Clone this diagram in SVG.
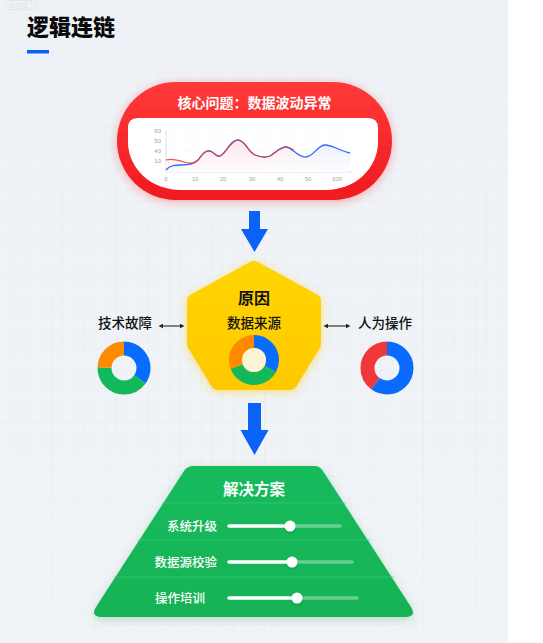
<svg xmlns="http://www.w3.org/2000/svg" width="543" height="643" viewBox="0 0 543 643">
<defs>
<style>
.cn{font-family:"Noto Sans CJK SC","Noto Sans",sans-serif}
.lbl{font-family:"Noto Sans CJK SC",sans-serif;font-size:13.5px;font-weight:500;fill:#111}
.row{font-family:"Noto Sans CJK SC",sans-serif;font-size:12.5px;font-weight:500;fill:#fff}
.ax{font-family:"Liberation Sans",Arial,sans-serif;font-size:6px;fill:#a0a4ab}
.track{stroke:#fff;stroke-opacity:0.35;stroke-width:3.5;stroke-linecap:round}
.act{stroke:#fff;stroke-width:3.5;stroke-linecap:round}
.knob{fill:#fff}
.dbl{stroke:#222;stroke-width:1.1;fill:none}
.arrow{fill:#0A63F5}
.div{stroke:#3fd07f;stroke-opacity:0.55;stroke-width:1}
</style>
<pattern id="grid" width="10.6" height="10.6" patternUnits="userSpaceOnUse">
<path d="M10.6 0V10.6H0" fill="none" stroke="#e3e8ee" stroke-width="0.7"/>
</pattern>
<linearGradient id="bg" x1="0" y1="0" x2="0" y2="1">
<stop offset="0" stop-color="#eef2f6"/>
<stop offset="1" stop-color="#f1f4f7"/>
</linearGradient>
<linearGradient id="redg" x1="0" y1="0" x2="0" y2="1">
<stop offset="0" stop-color="#ff3a3a"/>
<stop offset="1" stop-color="#f01a1f"/>
</linearGradient>
<linearGradient id="yelg" x1="0" y1="0" x2="0" y2="1">
<stop offset="0" stop-color="#ffd600"/>
<stop offset="1" stop-color="#ffc800"/>
</linearGradient>
<linearGradient id="greg" x1="0" y1="0" x2="0" y2="1">
<stop offset="0" stop-color="#16bb5c"/>
<stop offset="1" stop-color="#12b356"/>
</linearGradient>
<linearGradient id="areag" x1="0" y1="0" x2="1" y2="0">
<stop offset="0" stop-color="#ffd9dc" stop-opacity="0.8"/>
<stop offset="0.55" stop-color="#f7dce6" stop-opacity="0.6"/>
<stop offset="1" stop-color="#dfe9ff" stop-opacity="0.7"/>
</linearGradient>
<linearGradient id="areav" x1="0" y1="0" x2="0" y2="1">
<stop offset="0" stop-color="#fff" stop-opacity="0"/>
<stop offset="1" stop-color="#fff" stop-opacity="0.9"/>
</linearGradient>
<filter id="redglow" x="-20%" y="-30%" width="140%" height="160%">
<feDropShadow dx="0" dy="2" stdDeviation="5" flood-color="#ff2a2a" flood-opacity="0.35"/>
</filter>
<filter id="yelglow" x="-30%" y="-30%" width="160%" height="160%">
<feDropShadow dx="0" dy="2" stdDeviation="5" flood-color="#ffc400" flood-opacity="0.45"/>
</filter>
<filter id="grnsh" x="-20%" y="-20%" width="140%" height="140%">
<feDropShadow dx="0" dy="3" stdDeviation="5" flood-color="#0b7a3a" flood-opacity="0.22"/>
</filter>
<filter id="ksh" x="-50%" y="-50%" width="200%" height="200%">
<feDropShadow dx="0" dy="1" stdDeviation="1" flood-color="#000" flood-opacity="0.25"/>
</filter>
</defs>

<!-- background -->
<rect x="0" y="0" width="543" height="643" fill="#ffffff"/>
<rect x="0" y="0" width="508" height="643" fill="url(#bg)"/>
<rect x="0" y="0" width="508" height="643" fill="url(#grid)"/>

<!-- faint watermark -->
<g opacity="0.35">
<rect x="6" y="0.5" width="30" height="9" rx="3" fill="none" stroke="#c9ced6" stroke-width="0.8"/>
<text x="9.5" y="7.5" class="cn" font-size="6.5" fill="#c9ced6">AI生成</text>
</g>

<!-- title -->
<g id="title">
<text x="27" y="35" class="cn" font-size="22" font-weight="900" fill="#0a0a0a">逻辑连链</text>
<rect x="27" y="50" width="22" height="3.5" fill="#0A63F5"/>
</g>

<!-- core problem node -->
<g id="core">
<rect x="117" y="82" width="275" height="118" rx="59" fill="url(#redg)" filter="url(#redglow)"/>
<text x="254.5" y="108" text-anchor="middle" class="cn" font-size="14" font-weight="700" fill="#fff">核心问题：数据波动异常</text>
<path d="M138,118 H368 Q378,118 378,128 V142 A52 48 0 0 1 326,190 H180 A52 48 0 0 1 128,142 V128 Q128,118 138,118 Z" fill="#fff"/>
<!-- chart -->
<g id="chart">
<line x1="166" y1="130" x2="166" y2="172" stroke="#cfd3d9" stroke-width="0.7"/>
<line x1="166" y1="172" x2="352" y2="172" stroke="#cfd3d9" stroke-width="0.7"/>
<g stroke="#e6e8ec" stroke-width="0.5" stroke-dasharray="1.5 1.5">
<line x1="166" y1="131" x2="352" y2="131"/>
<line x1="166" y1="141" x2="352" y2="141"/>
<line x1="166" y1="151" x2="352" y2="151"/>
<line x1="166" y1="161" x2="352" y2="161"/>
</g>
<text x="161" y="133" class="ax" text-anchor="end">50</text>
<text x="161" y="143" class="ax" text-anchor="end">50</text>
<text x="161" y="153" class="ax" text-anchor="end">40</text>
<text x="161" y="163" class="ax" text-anchor="end">10</text>
<text x="166" y="181" class="ax" text-anchor="middle">0</text>
<text x="195" y="181" class="ax" text-anchor="middle">10</text>
<text x="223" y="181" class="ax" text-anchor="middle">20</text>
<text x="252" y="181" class="ax" text-anchor="middle">30</text>
<text x="280" y="181" class="ax" text-anchor="middle">40</text>
<text x="308" y="181" class="ax" text-anchor="middle">50</text>
<text x="337" y="181" class="ax" text-anchor="middle">100</text>
<path d="M166,160 C172,158 178,160 184,162 C190,164 194,164 198,160 C202,155 205,150 210,151 C214,152 216,157 220,156 C226,154 230,140 238,140 C245,140 248,152 255,155 C260,157 265,158 270,156 C275,153 280,147 286,147 C292,147 298,158 306,157 C314,156 318,145 325,145 C333,145 340,151 350,153 V172 H166 Z" fill="url(#areag)"/>
<path d="M166,160 C172,158 178,160 184,162 C190,164 194,164 198,160 C202,155 205,150 210,151 C214,152 216,157 220,156 C226,154 230,140 238,140 C245,140 248,152 255,155 C260,157 265,158 270,156 C275,153 280,147 286,147 C292,147 298,158 306,157 C314,156 318,145 325,145 C333,145 340,151 350,153 V172 H166 Z" fill="url(#areav)"/>
<path d="M166,170 C170,165 175,165 182,165 C190,165 194,164 198,160 C202,155 205,150 210,151 C214,152 216,157 220,156 C226,154 230,140 238,140 C245,140 248,152 255,155 C260,157 265,158 270,156 C275,153 280,147 286,147 C292,147 298,158 306,157 C314,156 318,145 325,145 C333,145 340,151 350,153" fill="none" stroke="#2f6bff" stroke-width="1.3"/>
<path d="M166,160 C172,158 178,160 184,162 C190,164 194,164 198,160 C202,155 205,150 210,151 C214,152 216,157 220,156 C226,154 230,140 238,140 C245,140 248,152 255,155 C260,157 265,158 270,156 C275,153 280,147 286,147 C290,147 292,149 294,150" fill="none" stroke="#f0383f" stroke-width="1.2" stroke-opacity="0.85"/>
</g>
</g>

<!-- cause node -->
<g id="cause">
<path d="M257,261.5 L318,295 Q321,297 321,300 V343 Q321,346 319.5,348.5 L296,387 Q294,390 291,390 H217 Q214,390 212,387 L188.5,348.5 Q187,346 187,343 V300 Q187,297 190,295 L251,261.5 Q254,260 257,261.5 Z" fill="url(#yelg)" filter="url(#yelglow)"/>
<text x="254" y="304" text-anchor="middle" class="cn" font-size="16" font-weight="700" fill="#111">原因</text>
<text x="254" y="328" text-anchor="middle" class="lbl" font-size="14">数据来源</text>
<g transform="rotate(-90 254 360)">
<circle cx="254" cy="360" r="18.5" fill="none" stroke="#0A6CFF" stroke-width="13" stroke-dasharray="38.1 200"/>
<circle cx="254" cy="360" r="18.5" fill="none" stroke="#12B85A" stroke-width="13" stroke-dasharray="41.98 200" stroke-dashoffset="-38.1"/>
<circle cx="254" cy="360" r="18.5" fill="none" stroke="#FF8A00" stroke-width="13" stroke-dasharray="36.16 200" stroke-dashoffset="-80.08"/>
</g>
<circle cx="254" cy="360" r="12" fill="#fbf3d6"/>
</g>

<!-- tech failure -->
<g id="tech">
<text x="125" y="328" text-anchor="middle" class="lbl">技术故障</text>
<g transform="rotate(-90 124 368)">
<circle cx="124" cy="368" r="19.5" fill="none" stroke="#0A6CFF" stroke-width="14" stroke-dasharray="42.5 200"/>
<circle cx="124" cy="368" r="19.5" fill="none" stroke="#12B85A" stroke-width="14" stroke-dasharray="49.4 200" stroke-dashoffset="-42.5"/>
<circle cx="124" cy="368" r="19.5" fill="none" stroke="#FF8A00" stroke-width="14" stroke-dasharray="30.6 200" stroke-dashoffset="-91.9"/>
</g>
</g>

<!-- human operation -->
<g id="human">
<text x="385" y="328" text-anchor="middle" class="lbl">人为操作</text>
<g transform="rotate(-90 387 368)">
<circle cx="387" cy="368" r="19.5" fill="none" stroke="#0A6CFF" stroke-width="14" stroke-dasharray="73.2 200"/>
<circle cx="387" cy="368" r="19.5" fill="none" stroke="#F2373B" stroke-width="14" stroke-dasharray="49.3 200" stroke-dashoffset="-73.2"/>
</g>
</g>

<!-- solution node -->
<g id="solution">
<path d="M194,466 H314 Q320,466 323,471 L411,607 Q417,617 405,617 H102 Q90,617 96,607 L184,471 Q187,466 194,466 Z" fill="url(#greg)" filter="url(#grnsh)"/>
<line x1="162" y1="503" x2="346" y2="503" class="div"/>
<line x1="138" y1="540" x2="370" y2="540" class="div"/>
<line x1="114" y1="577" x2="394" y2="577" class="div"/>
<text x="254" y="495" text-anchor="middle" class="cn" font-size="15.5" font-weight="700" fill="#fff">解决方案</text>
<g id="row1">
<text x="217" y="531" text-anchor="end" class="row">系统升级</text>
<line x1="290" y1="526" x2="340" y2="526" class="track"/>
<line x1="229" y1="526" x2="290" y2="526" class="act"/>
<circle cx="290" cy="526" r="5.5" class="knob" filter="url(#ksh)"/>
</g>
<g id="row2">
<text x="217" y="566.5" text-anchor="end" class="row">数据源校验</text>
<line x1="292" y1="562" x2="352" y2="562" class="track"/>
<line x1="229" y1="562" x2="292" y2="562" class="act"/>
<circle cx="292" cy="562" r="5.5" class="knob" filter="url(#ksh)"/>
</g>
<g id="row3">
<text x="155" y="602.5" class="row">操作培训</text>
<line x1="297" y1="598" x2="357" y2="598" class="track"/>
<line x1="229" y1="598" x2="297" y2="598" class="act"/>
<circle cx="297" cy="598" r="5.5" class="knob" filter="url(#ksh)"/>
</g>
</g>

<!-- connectors -->
<g id="connectors">
<path class="arrow" d="M249,211 H260 V229 H268 L254.5,252 L241,229 H249 Z"/>
<path class="arrow" d="M248,403 H261 V430 H268.5 L254.5,455 L240.5,430 H248 Z"/>
<g class="dbl">
<line x1="161" y1="326" x2="182" y2="326"/>
<line x1="326" y1="326" x2="348" y2="326"/>
</g>
<g fill="#222">
<path d="M158.5,326 L163,323.8 V328.2 Z"/>
<path d="M184.5,326 L180,323.8 V328.2 Z"/>
<path d="M323.5,326 L328,323.8 V328.2 Z"/>
<path d="M350.5,326 L346,323.8 V328.2 Z"/>
</g>
</g>
</svg>
